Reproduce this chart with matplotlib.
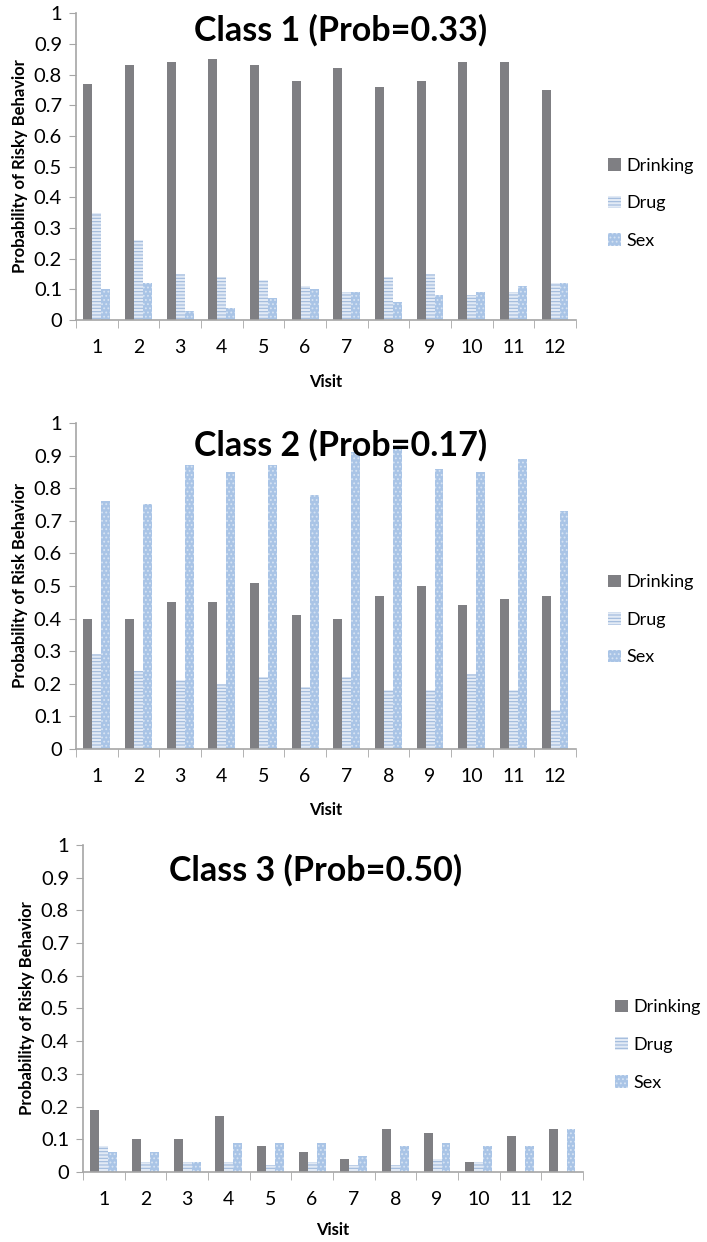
import matplotlib.pyplot as plt
import numpy as np

visits = ["1", "2", "3", "4", "5", "6", "7", "8", "9", "10", "11", "12"]
series_names = ["Drinking", "Drug", "Sex"]

titles = ["Class 1 (Prob=0.33)", "Class 2 (Prob=0.17)", "Class 3 (Prob=0.50)"]
ylabels = ["Probability of Risky Behavior", "Probability of Risk Behavior",
           "Probability of Risky Behavior"]

class1_drinking = [0.77, 0.83, 0.84, 0.85, 0.83, 0.78, 0.82, 0.76, 0.78, 0.84, 0.84, 0.75]
class1_drug = [0.35, 0.26, 0.15, 0.14, 0.13, 0.11, 0.09, 0.14, 0.15, 0.08, 0.09, 0.12]
class1_sex = [0.10, 0.12, 0.03, 0.04, 0.07, 0.10, 0.09, 0.06, 0.08, 0.09, 0.11, 0.12]

class2_drinking = [0.40, 0.40, 0.45, 0.45, 0.51, 0.41, 0.40, 0.47, 0.50, 0.44, 0.46, 0.47]
class2_drug = [0.29, 0.24, 0.21, 0.20, 0.22, 0.19, 0.22, 0.18, 0.18, 0.23, 0.18, 0.12]
class2_sex = [0.76, 0.75, 0.87, 0.85, 0.87, 0.78, 0.91, 0.93, 0.86, 0.85, 0.89, 0.73]

class3_drinking = [0.19, 0.10, 0.10, 0.17, 0.08, 0.06, 0.04, 0.13, 0.12, 0.03, 0.11, 0.13]
class3_drug = [0.08, 0.03, 0.03, 0.03, 0.02, 0.03, 0.02, 0.02, 0.04, 0.03, 0.00, 0.00]
class3_sex = [0.06, 0.06, 0.03, 0.09, 0.09, 0.09, 0.05, 0.08, 0.09, 0.08, 0.08, 0.13]

panels = [
    (class1_drinking, class1_drug, class1_sex),
    (class2_drinking, class2_drug, class2_sex),
    (class3_drinking, class3_drug, class3_sex),
]

plt.rcParams['font.family'] = ['Lato', 'DejaVu Sans']
plt.rcParams['hatch.linewidth'] = 0.8

fig = plt.figure(figsize=(7.07, 12.42), dpi=100)

boxes = [
    [0.1075, 0.7424, 0.707, 0.247],
    [0.1075, 0.3970, 0.707, 0.2625],
    [0.1174, 0.0564, 0.707, 0.2633],
]
title_pos = [(0.53, 0.945), (0.53, 0.93), (0.465, 0.924)]
legend_y = [0.38, 0.396, 0.388]
visit_pad = [13, 12, 10]

axis_gray = '#a6a6a6'
x = np.arange(len(visits))
w = 0.215

for i, (drink, drug, sex) in enumerate(panels):
    ax = fig.add_axes(boxes[i])
    ax.bar(x - w, drink, w, color='#7f7f83', label=series_names[0])
    ax.bar(x, drug, w, facecolor='#e2eaf5', edgecolor='#9fb9dc', hatch='-----',
           linewidth=0, label=series_names[1])
    ax.bar(x + w, sex, w, facecolor='#a9c4e6', edgecolor='#d6e3f3', hatch='....',
           linewidth=0, label=series_names[2])

    ax.set_xlim(-0.5, len(visits) - 0.5)
    ax.set_ylim(0, 1)
    ax.set_yticks(np.arange(0, 1.01, 0.1))
    ax.set_yticklabels(["0", "0.1", "0.2", "0.3", "0.4", "0.5", "0.6", "0.7",
                        "0.8", "0.9", "1"])
    ax.set_xticks(x)
    ax.set_xticklabels(visits)
    ax.set_xticks(np.arange(-0.5, len(visits), 1), minor=True)
    ax.tick_params(axis='x', which='major', length=0, pad=14, labelsize=14)
    ax.tick_params(axis='x', which='minor', length=6, color=axis_gray, direction='out')
    ax.tick_params(axis='y', length=5, color=axis_gray, labelsize=14.5, pad=5)

    for s in ['top', 'right']:
        ax.spines[s].set_visible(False)
    for s in ['left', 'bottom']:
        ax.spines[s].set_color(axis_gray)
        ax.spines[s].set_linewidth(1.2)

    ax.set_ylabel(ylabels[i], fontsize=12, fontweight='bold', labelpad=4)
    ax.set_xlabel("Visit", fontsize=12, fontweight='bold', labelpad=visit_pad[i])
    ax.text(title_pos[i][0], title_pos[i][1], titles[i], transform=ax.transAxes,
            ha='center', va='center', fontsize=24.5, fontweight='bold')
    ax.legend(loc='center left', bbox_to_anchor=(1.05, legend_y[i]), frameon=False,
              fontsize=13, handlelength=0.7, handleheight=0.7, handletextpad=0.3,
              labelspacing=1.2, borderaxespad=0)

fig.savefig("out.png", dpi=100)
